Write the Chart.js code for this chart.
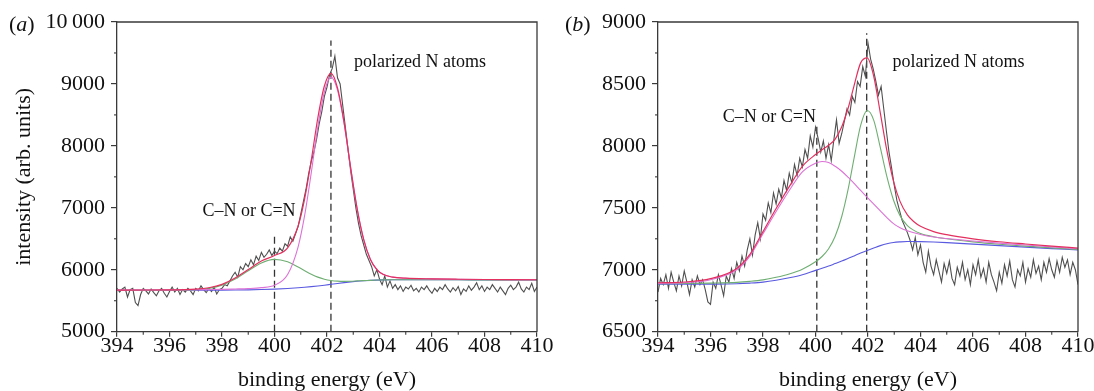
<!DOCTYPE html>
<html><head><meta charset="utf-8">
<script src="https://cdn.jsdelivr.net/npm/chart.js@4"></script>
<style>
html,body{margin:0;padding:0;background:#fff;}
#wrap{position:relative;width:1094px;height:391px;overflow:hidden;background:#fff;}
#ca{position:absolute;left:0;top:0;}
#cb{position:absolute;left:547px;top:0;}
</style></head><body>
<div id="wrap"><canvas id="ca" width="580" height="391"></canvas><canvas id="cb" width="547" height="391"></canvas></div>
<script>
// ---------- data ----------
const rawEnergy = [394.0,394.1,394.2,394.3,394.4,394.5,394.6,394.7,394.8,394.9,
395.0,395.1,395.2,395.3,395.4,395.5,395.6,395.7,395.8,395.9,
396.0,396.1,396.2,396.3,396.4,396.5,396.6,396.7,396.8,396.9,
397.0,397.1,397.2,397.3,397.4,397.5,397.6,397.7,397.8,397.9,
398.0,398.1,398.2,398.3,398.4,398.5,398.6,398.7,398.8,398.9,
399.0,399.1,399.2,399.3,399.4,399.5,399.6,399.7,399.8,399.9,
400.0,400.1,400.2,400.3,400.4,400.5,400.6,400.7,400.8,400.9,
401.0,401.1,401.2,401.3,401.4,401.5,401.6,401.7,401.8,401.9,
402.0,402.1,402.2,402.3,402.4,402.5,402.6,402.7,402.8,402.9,
403.0,403.1,403.2,403.3,403.4,403.5,403.6,403.7,403.8,403.9,
404.0,404.1,404.2,404.3,404.4,404.5,404.6,404.7,404.8,404.9,
405.0,405.1,405.2,405.3,405.4,405.5,405.6,405.7,405.8,405.9,
406.0,406.1,406.2,406.3,406.4,406.5,406.6,406.7,406.8,406.9,
407.0,407.1,407.2,407.3,407.4,407.5,407.6,407.7,407.8,407.9,
408.0,408.1,408.2,408.3,408.4,408.5,408.6,408.7,408.8,408.9,
409.0,409.1,409.2,409.3,409.4,409.5,409.6,409.7,409.8,409.9,
410.0];

const rawA = [5700,5640,5690,5720,5560,5680,5700,5470,5420,5600,
5700,5660,5610,5690,5630,5580,5660,5700,5620,5560,
5650,5720,5640,5700,5600,5680,5640,5700,5660,5600,
5700,5660,5740,5680,5630,5700,5650,5720,5610,5680,
5700,5760,5740,5820,5900,5960,5880,6050,6000,6100,
6050,6160,6080,6220,6150,6280,6200,6250,6320,6230,
6300,6260,6350,6300,6420,6380,6530,6460,6580,6700,
6900,7100,7300,7550,7750,7900,8100,8350,8550,8800,
8950,9150,9250,9450,9100,9000,8650,8300,7950,7600,
7300,7000,6750,6550,6400,6250,6150,6050,5900,6000,
5850,5760,5900,5720,5820,5700,5760,5680,5740,5650,
5720,5690,5750,5660,5700,5640,5720,5680,5740,5670,
5620,5700,5650,5720,5680,5760,5690,5640,5710,5660,
5730,5600,5690,5650,5740,5670,5720,5790,5680,5740,
5650,5720,5680,5760,5700,5640,5720,5660,5600,5700,
5750,5680,5720,5800,5690,5640,5720,5680,5780,5650,
5720];

const rawB = [6820,6930,6880,6960,6850,6980,6900,6830,6950,6870,
6990,6900,6800,6920,6860,6950,6880,6920,6840,6740,
6720,6900,6850,6960,6880,6790,6950,6900,7010,6930,
7060,6990,7110,7030,7160,7250,7120,7280,7380,7250,
7450,7400,7540,7460,7620,7530,7650,7580,7720,7640,
7780,7700,7850,7760,7900,7830,7970,7900,8080,7990,
8150,8060,7950,8040,7900,8010,7880,8050,8210,8020,
8100,8200,8300,8250,8400,8350,8520,8480,8640,8560,
8830,8700,8620,8520,8410,8480,8300,8120,7950,7820,
7680,7560,7480,7400,7350,7300,7240,7160,7260,7120,
7200,7060,6980,7150,7030,6960,7080,6990,6900,7050,
6970,7070,6930,6880,7020,6950,7060,6920,7000,6880,
7040,6960,7080,6940,7010,6900,7060,6960,6900,6830,
6980,6890,7040,6950,7070,6920,6860,7000,6950,7060,
6900,7010,6940,7080,6970,7030,6920,7060,6980,7090,
7000,6940,7070,6980,7100,7020,7080,6960,7060,7000,
6880];

// fitted components, panel (a)
const fitEnergyA = [394,395,396,397,397.5,398,398.5,399,399.5,400,
400.5,400.9,401.15,401.4,401.65,401.9,402.15,402.4,402.65,402.9,
403.15,403.4,403.65,403.9,404.15,404.5,405,406,407,408,409,410];
const backgroundA = [5668,5668,5668,5669,5670,5671,5673,5676,5681,5688,
5698,5709,5717,5727,5738,5751,5765,5779,5792,5804,
5814,5822,5828,5833,5836,5838,5839,5839,5838,5837,5836,5835];
const polarizedA = [5672,5673,5674,5677,5680,5683,5689,5696,5711,5750,
5923,6371,6881,7565,8307,8870,9110,8900,8361,7642,
6978,6484,6170,6001,5922,5881,5864,5853,5847,5843,5841,5839];
const cnA = [5668,5668,5668,5678,5700,5752,5850,5984,6111,6168,
6128,6044,5984,5928,5881,5848,5827,5816,5813,5815,
5820,5825,5829,5834,5836,5838,5839,5839,5838,5837,5836,5835];
const envelopeA = [5672,5673,5674,5686,5710,5764,5866,6004,6141,6230,
6353,6706,7148,7766,8450,8967,9172,8937,8382,7653,
6984,6487,6171,6002,5922,5881,5864,5853,5847,5843,5841,5839];

// fitted components, panel (b)
const fitEnergyB = [394,395,396,397,397.5,398,398.5,399,399.5,400,
400.25,400.5,400.75,401,401.25,401.47,401.72,401.97,402.22,402.47,
402.72,402.97,403.22,403.5,403.75,404,404.5,405,406,407,408,409,410];
const backgroundB = [6883,6883,6884,6887,6892,6900,6915,6935,6960,6995,
7012,7030,7050,7070,7092,7112,7135,7156,7176,7195,
7210,7220,7225,7228,7228,7227,7224,7219,7207,7195,7183,7171,7159];
const cnB = [6890,6895,6920,7000,7110,7290,7470,7640,7790,7860,
7874,7865,7835,7795,7745,7697,7640,7585,7530,7475,
7420,7372,7340,7315,7298,7285,7265,7252,7232,7215,7200,7185,7170];
const polarizedB = [6888,6889,6892,6898,6906,6918,6939,6966,7005,7065,
7107,7170,7270,7430,7657,7902,8165,8285,8206,7985,
7751,7563,7437,7356,7318,7293,7267,7250,7225,7206,7191,7177,7164];
const envelopeB = [6895,6901,6928,7011,7124,7308,7494,7671,7835,7930,
7969,8005,8055,8155,8310,8487,8670,8710,8560,8265,
7961,7715,7552,7443,7388,7351,7308,7283,7250,7226,7208,7191,7175];

// dashed marker lines (energy, top of line)
const markerEnergyA = [400.0, 402.15];
const markerTopA = [6590, 9700];
const markerEnergyB = [400.05, 401.95];
const markerTopB = [8160, 8910];

// ticks
const xTicks = [394,396,398,400,402,404,406,408,410];
const xMinorTicks = [395,397,399,401,403,405,407,409];
const yTicksA = [5000,6000,7000,8000,9000,10000];
const yMinorTicksA = [5500,6500,7500,8500,9500];
const yTicksB = [6500,7000,7500,8000,8500,9000];
const yMinorTicksB = [6750,7250,7750,8250,8750];

// annotations
const labelsA = [{text:'C\u2013N or C=N', x:399.03, y:6938},{text:'polarized N atoms', x:405.54, y:9356}];
const labelsB = [{text:'C\u2013N or C=N', x:398.24, y:8233},{text:'polarized N atoms', x:405.45, y:8678}];

// ---------- drawing ----------
const SERIF = '"Liberation Serif", "Times New Roman", serif';
const AXIS = '#3a3a3a';
const COL = {raw:'#505050', env:'#e3305e', magenta:'#dc72d6', green:'#6fae72', bg:'#5a5ae0'};

function pts(xs, ys){ return xs.map((x,i)=>({x:x, y:ys[i]})); }

const decor = {
  id:'decor',
  afterDraw(chart, args, o){
    const ctx = chart.ctx, a = chart.chartArea, xs = chart.scales.x, ys = chart.scales.y;
    ctx.save();
    ctx.strokeStyle = AXIS; ctx.lineWidth = 1.3;
    ctx.beginPath(); ctx.moveTo(a.left, a.top); ctx.lineTo(a.right, a.top); ctx.lineTo(a.right, a.bottom); ctx.stroke();
    ctx.lineWidth = 1.1;
    o.minorX.forEach(v=>{const p=xs.getPixelForValue(v); ctx.beginPath(); ctx.moveTo(p,a.bottom); ctx.lineTo(p,a.bottom+3); ctx.stroke();});
    o.minorY.forEach(v=>{const p=ys.getPixelForValue(v); ctx.beginPath(); ctx.moveTo(a.left,p); ctx.lineTo(a.left-3,p); ctx.stroke();});
    ctx.fillStyle = '#111'; ctx.textAlign='center'; ctx.textBaseline='middle';
    ctx.font = '18px ' + SERIF;
    o.notes.forEach(n=>ctx.fillText(n.text, xs.getPixelForValue(n.x), ys.getPixelForValue(n.y)));
    // panel letter
    ctx.textAlign='left';
    let x = o.letterX; const y = o.letterY;
    ctx.font = '22px ' + SERIF; ctx.fillText('(', x, y); x += ctx.measureText('(').width;
    ctx.font = 'italic 22px ' + SERIF; ctx.fillText(o.letter, x, y); x += ctx.measureText(o.letter).width;
    ctx.font = '22px ' + SERIF; ctx.fillText(')', x, y);
    ctx.restore();
  }
};

function makeChart(id, cfg){
  const datasets = [
    {data:pts(cfg.fitX,cfg.env), borderColor:COL.env, borderWidth:1.2, cubicInterpolationMode:'monotone', order:1},
    {data:pts(cfg.fitX,cfg.magentaCurve), borderColor:COL.magenta, borderWidth:1.1, cubicInterpolationMode:'monotone', order:2},
    {data:pts(cfg.fitX,cfg.greenCurve), borderColor:COL.green, borderWidth:1.1, cubicInterpolationMode:'monotone', order:3},
    {data:pts(cfg.fitX,cfg.bg), borderColor:COL.bg, borderWidth:1.1, cubicInterpolationMode:'monotone', order:4},
    {data:pts(rawEnergy,cfg.raw), borderColor:COL.raw, borderWidth:1.1, tension:0, order:5}
  ];
  cfg.markX.forEach((e,i)=>{
    datasets.push({data:[{x:e,y:cfg.ymin},{x:e,y:cfg.markTop[i]}], borderColor:'#333', borderWidth:1.3, borderDash:[7,4], order:6});
  });
  return new Chart(document.getElementById(id), {
    type:'line',
    data:{datasets},
    options:{
      responsive:false, animation:false, devicePixelRatio:1,
      layout:{padding:{left:0, top:22, right:cfg.padRight, bottom:0}},
      elements:{point:{radius:0}},
      plugins:{legend:{display:false}, tooltip:{enabled:false},
        decor:{minorX:xMinorTicks, minorY:cfg.minorY, notes:cfg.notes, letter:cfg.letter, letterX:cfg.letterX, letterY:25}},
      scales:{
        x:{type:'linear', min:394, max:410,
          afterBuildTicks:(s)=>{s.ticks = xTicks.map(v=>({value:v}));},
          afterFit:(s)=>{s.height = 59.3; s.paddingLeft = 0; s.paddingRight = 0;},
          ticks:{color:'#111', font:{family:SERIF, size:22}, padding:-4, maxRotation:0, autoSkip:false},
          grid:{drawOnChartArea:false, drawTicks:true, tickLength:5, color:AXIS, lineWidth:1.2},
          border:{display:true, color:AXIS, width:1.3},
          title:{display:true, text:'binding energy (eV)', color:'#111', font:{family:SERIF, size:22, lineHeight:1}, padding:{top:0,bottom:0}}
        },
        y:{type:'linear', min:cfg.ymin, max:cfg.ymax,
          afterBuildTicks:(s)=>{s.ticks = cfg.yTicks.map(v=>({value:v}));},
          afterFit:(s)=>{s.width = cfg.yWidth;},
          ticks:{color:'#111', font:{family:SERIF, size:22}, padding:6, autoSkip:false,
            callback:(v)=> v>=10000 ? String(v).slice(0,-3)+'\u2009'+String(v).slice(-3) : String(v)},
          grid:{drawOnChartArea:false, drawTicks:true, tickLength:6, color:AXIS, lineWidth:1.2},
          border:{display:true, color:AXIS, width:1.3},
          title:{display:cfg.yTitle, text:'intensity (arb. units)', color:'#111', font:{family:SERIF, size:22, lineHeight:1}, padding:{top:13,bottom:0}}
        }
      }
    },
    plugins:[decor]
  });
}

// panel (a): polarized-N peak drawn magenta, C–N peak drawn green
makeChart('ca', {fitX:fitEnergyA, env:envelopeA, magentaCurve:polarizedA, greenCurve:cnA, bg:backgroundA, raw:rawA,
  markX:markerEnergyA, markTop:markerTopA, ymin:5000, ymax:10000, yTicks:yTicksA, minorY:yMinorTicksA,
  notes:labelsA, letter:'a', letterX:9, yWidth:117, padRight:43, yTitle:true});
// panel (b): broad C–N peak drawn magenta, polarized-N peak drawn green
makeChart('cb', {fitX:fitEnergyB, env:envelopeB, magentaCurve:cnB, greenCurve:polarizedB, bg:backgroundB, raw:rawB,
  markX:markerEnergyB, markTop:markerTopB, ymin:6500, ymax:9000, yTicks:yTicksB, minorY:yMinorTicksB,
  notes:labelsB, letter:'b', letterX:18, yWidth:111, padRight:16, yTitle:false});
</script>
</body></html>
